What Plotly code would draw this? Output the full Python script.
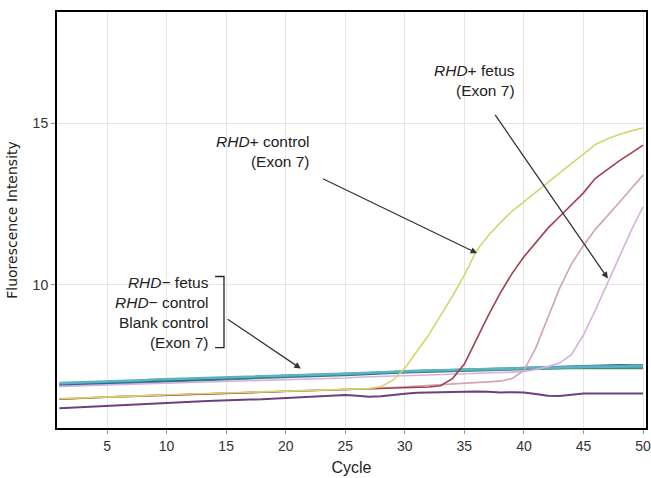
import plotly.graph_objects as go

cycles = list(range(1, 51))

# RHD+ control (yellow)
yellow = [6.48, 6.49, 6.50, 6.51, 6.53, 6.54, 6.55, 6.57, 6.58, 6.60,
          6.61, 6.62, 6.63, 6.64, 6.65, 6.66, 6.67, 6.68, 6.69, 6.70,
          6.71, 6.72, 6.73, 6.74, 6.75, 6.77, 6.79, 6.85, 7.05, 7.42,
          7.95, 8.45, 9.05, 9.65, 10.30, 11.05, 11.52, 11.92, 12.28, 12.58,
          12.88, 13.17, 13.47, 13.76, 14.05, 14.35, 14.52, 14.66, 14.77, 14.86]
# maroon
maroon = [6.46, 6.48, 6.50, 6.51, 6.52, 6.54, 6.55, 6.56, 6.58, 6.60,
          6.61, 6.62, 6.63, 6.64, 6.65, 6.66, 6.67, 6.68, 6.69, 6.71,
          6.72, 6.73, 6.74, 6.75, 6.76, 6.77, 6.78, 6.80, 6.81, 6.82,
          6.83, 6.84, 6.88, 7.10, 7.55, 8.30, 9.05, 9.74, 10.35, 10.87,
          11.32, 11.75, 12.12, 12.48, 12.85, 13.30, 13.58, 13.84, 14.08, 14.33]
# RHD+ fetus (pink)
pink = [6.47, 6.49, 6.50, 6.52, 6.53, 6.54, 6.56, 6.57, 6.58, 6.59,
        6.60, 6.61, 6.63, 6.64, 6.65, 6.66, 6.67, 6.68, 6.69, 6.70,
        6.71, 6.72, 6.73, 6.74, 6.75, 6.76, 6.78, 6.80, 6.82, 6.84,
        6.86, 6.88, 6.90, 6.92, 6.94, 6.96, 6.98, 7.02, 7.10, 7.35,
        8.05, 8.95, 9.90, 10.65, 11.22, 11.72, 12.12, 12.55, 12.98, 13.40]
# RHD+ fetus (lilac)
lilac = [6.86, 6.87, 6.88, 6.89, 6.90, 6.91, 6.92, 6.93, 6.94, 6.95,
         6.96, 6.97, 6.98, 6.99, 7.00, 7.01, 7.02, 7.03, 7.04, 7.05,
         7.06, 7.08, 7.09, 7.10, 7.12, 7.14, 7.16, 7.17, 7.18, 7.19,
         7.20, 7.21, 7.22, 7.23, 7.24, 7.25, 7.26, 7.28, 7.30, 7.32,
         7.38, 7.47, 7.58, 7.85, 8.45, 9.22, 10.05, 10.88, 11.68, 12.42]
# RHD- fetus / RHD- control / blank (teal, blue, green)
teal = [6.96, 6.97, 6.99, 7.00, 7.01, 7.03, 7.04, 7.05, 7.07, 7.08,
        7.09, 7.10, 7.12, 7.13, 7.14, 7.15, 7.16, 7.17, 7.18, 7.20,
        7.21, 7.22, 7.23, 7.24, 7.25, 7.26, 7.28, 7.30, 7.31, 7.33,
        7.34, 7.35, 7.36, 7.37, 7.38, 7.39, 7.40, 7.41, 7.42, 7.42,
        7.43, 7.44, 7.44, 7.45, 7.46, 7.47, 7.47, 7.48, 7.48, 7.48]
blue = [6.92, 6.93, 6.95, 6.96, 6.98, 6.99, 7.01, 7.02, 7.03, 7.05,
        7.06, 7.08, 7.09, 7.10, 7.12, 7.13, 7.14, 7.15, 7.17, 7.18,
        7.19, 7.21, 7.22, 7.23, 7.24, 7.25, 7.26, 7.28, 7.30, 7.32,
        7.33, 7.34, 7.35, 7.36, 7.37, 7.38, 7.39, 7.40, 7.41, 7.42,
        7.43, 7.44, 7.45, 7.46, 7.48, 7.50, 7.51, 7.51, 7.50, 7.50]
green = [6.89, 6.90, 6.92, 6.93, 6.95, 6.96, 6.97, 6.99, 7.00, 7.02,
         7.03, 7.04, 7.06, 7.07, 7.08, 7.10, 7.11, 7.12, 7.13, 7.15,
         7.16, 7.18, 7.19, 7.20, 7.21, 7.23, 7.24, 7.26, 7.28, 7.30,
         7.31, 7.32, 7.33, 7.35, 7.36, 7.37, 7.38, 7.39, 7.40, 7.41,
         7.42, 7.42, 7.43, 7.43, 7.43, 7.43, 7.43, 7.43, 7.43, 7.43]
# purple
purple = [6.18, 6.20, 6.22, 6.24, 6.26, 6.28, 6.30, 6.31, 6.33, 6.35,
          6.37, 6.38, 6.40, 6.41, 6.43, 6.44, 6.45, 6.46, 6.48, 6.49,
          6.51, 6.53, 6.55, 6.57, 6.59, 6.57, 6.54, 6.55, 6.60, 6.63,
          6.66, 6.67, 6.68, 6.69, 6.70, 6.70, 6.69, 6.67, 6.68, 6.67,
          6.62, 6.57, 6.56, 6.60, 6.64, 6.64, 6.64, 6.64, 6.64, 6.64]

x_ticks = [5, 10, 15, 20, 25, 30, 35, 40, 45, 50]
y_ticks = [10, 15]

series = [
    ("green", green, "#3d8c6c", 2.6),
    ("blue", blue, "#2a6aa0", 2.6),
    ("teal", teal, "#5bb3c2", 2.6),
    ("purple", purple, "#6e3f7e", 2.0),
    ("lilac", lilac, "#d7b0de", 1.6),
    ("pink", pink, "#cfa4b4", 1.6),
    ("maroon", maroon, "#a0404f", 1.6),
    ("yellow", yellow, "#d5d56e", 1.6),
]

fig = go.Figure()
for name, vals, color, w in series:
    fig.add_trace(go.Scatter(x=cycles, y=vals, mode="lines", name=name,
                             line=dict(color=color, width=w), showlegend=False,
                             hoverinfo="skip"))

FONT = "Liberation Sans, Arial, sans-serif"
TXT = "#222"
ASIZE = 15.5

annotations = [
    dict(x=22.1, y=14.14, xref="x", yref="y", xanchor="right", yanchor="middle",
         align="right", showarrow=False,
         text="<i>RHD</i>+ control<br>(Exon 7)"),
    dict(x=39.4, y=16.33, xref="x", yref="y", xanchor="right", yanchor="middle",
         align="right", showarrow=False,
         text="<i>RHD</i>+ fetus<br>(Exon 7)"),
    dict(x=13.7, y=9.14, xref="x", yref="y", xanchor="right", yanchor="middle",
         align="right", showarrow=False,
         text="<i>RHD</i>− fetus<br><i>RHD</i>− control<br>Blank control<br>(Exon 7)"),
    # arrows
    dict(x=36.07, y=10.98, ax=23.0, ay=13.31, xref="x", yref="y", axref="x", ayref="y",
         showarrow=True, arrowhead=2, arrowsize=1, arrowwidth=1.3, arrowcolor="#333", text=""),
    dict(x=47.05, y=10.2, ax=37.5, ay=15.31, xref="x", yref="y", axref="x", ayref="y",
         showarrow=True, arrowhead=2, arrowsize=1, arrowwidth=1.3, arrowcolor="#333", text=""),
    dict(x=21.27, y=7.41, ax=15.0, ay=8.97, xref="x", yref="y", axref="x", ayref="y",
         showarrow=True, arrowhead=2, arrowsize=1, arrowwidth=1.3, arrowcolor="#333", text=""),
]
for a in annotations:
    a.setdefault("font", dict(family=FONT, size=ASIZE, color=TXT))

fig.update_layout(
    width=651, height=478,
    margin=dict(l=57, r=5, t=12, b=50),
    paper_bgcolor="white", plot_bgcolor="white",
    annotations=annotations,
    shapes=[dict(type="path", xref="x", yref="y",
                 path="M 14.07 10.26 L 14.82 10.26 L 14.82 8.06 L 14.07 8.06",
                 line=dict(color="#222", width=1.3))],
)
fig.update_xaxes(range=[0.8, 50.25], tickvals=x_ticks, showgrid=True, gridcolor="#e6e6e6",
                 showline=True, mirror=True, linecolor="black", linewidth=2,
                 ticks="outside", ticklen=4, tickcolor="#999", zeroline=False,
                 automargin=False, ticklabeloverflow="allow",
                 tickfont=dict(family=FONT, size=14, color="#333"),
                 title=dict(text="Cycle", standoff=9,
                            font=dict(family=FONT, size=16, color=TXT)))
fig.update_yaxes(range=[5.57, 18.45], tickvals=y_ticks, showgrid=True, gridcolor="#e6e6e6",
                 showline=True, mirror=True, linecolor="black", linewidth=2,
                 ticks="outside", ticklen=4, tickcolor="#999", zeroline=False,
                 automargin=False,
                 tickfont=dict(family=FONT, size=14, color="#333"),
                 title=dict(text="Fluorescence Intensity", standoff=12,
                            font=dict(family="DejaVu Sans", size=14, color=TXT)))

fig.write_html("out.html", config={"displayModeBar": False},
               post_script="document.body.style.margin='0';document.body.style.padding='0';")
